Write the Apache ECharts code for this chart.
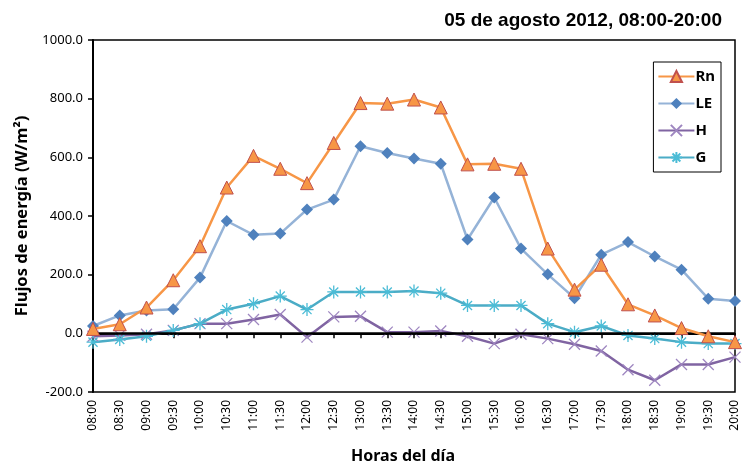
<!DOCTYPE html>
<html><head><meta charset="utf-8">
<script src="https://cdn.jsdelivr.net/npm/echarts@6/dist/echarts.min.js"></script>
<style>html,body{margin:0;padding:0;background:#fff}#c{width:748px;height:469px}</style>
</head><body><div id="c"></div>
<script>
var categories = ["08:00","08:30","09:00","09:30","10:00","10:30","11:00","11:30","12:00","12:30","13:00","13:30","14:00","14:30","15:00","15:30","16:00","16:30","17:00","17:30","18:00","18:30","19:00","19:30","20:00"];
var Rn = [15,31,88,181,297,497,605,561,512,649,785,783,797,770,576,578,561,289,149,234,99,61,18,-10,-30];
var LE = [25,61,78,82,190,383,336,340,422,456,638,615,596,578,320,463,289,201,120,268,311,262,217,118,110];
var H  = [-10,-7,-3,10,33,33,47,64,-13,56,58,4,4,8,-10,-35,-3,-18,-37,-60,-124,-160,-106,-106,-81];
var G  = [-30,-21,-10,10,33,81,101,127,81,141,141,141,144,137,95,95,95,33,4,25,-7,-18,-30,-35,-35];
var yTicks = {min:-200, max:1000, interval:200};

var xSym = 'path://M0,0L10,10M10,0L0,10';
var astSym = 'path://M0,5L10,5M5,0L5,10M1.5,1.5L8.5,8.5M8.5,1.5L1.5,8.5';

var chart = echarts.init(document.getElementById('c'));
chart.setOption({
  animation:false,
  backgroundColor:'#fff',
  title:{text:'05 de agosto 2012, 08:00-20:00', right:21, top:6,
    textStyle:{fontFamily:'Liberation Sans', fontWeight:'bold', fontSize:19, color:'#000'}},
  grid:{left:93, right:13, top:40, bottom:77, show:true, borderColor:'#000', borderWidth:1.5, backgroundColor:'transparent'},
  legend:{
    data:['Rn','LE','H','G'], orient:'vertical', right:27, top:62,
    borderColor:'#000', borderWidth:1, padding:[7,6,7,4], itemGap:12,
    itemWidth:36, itemHeight:14,
    textStyle:{fontFamily:'Noto Sans', fontWeight:'bold', fontSize:15, color:'#000', padding:[0,0,0,-4]}
  },
  xAxis:{type:'category', data:categories, boundaryGap:false,
    axisLine:{lineStyle:{color:'#000', width:2}},
    axisTick:{show:true, length:5, lineStyle:{color:'#000', width:1.5}, alignWithLabel:true},
    axisLabel:{rotate:90, interval:0, fontFamily:'Noto Sans', fontSize:12, color:'#000', margin:8},
    name:'Horas del día', nameLocation:'middle', nameGap:56,
    nameTextStyle:{fontFamily:'Noto Sans', fontWeight:'bold', fontSize:16, color:'#000', padding:[0,22,0,0]}
  },
  yAxis:{type:'value', min:yTicks.min, max:yTicks.max, interval:yTicks.interval,
    axisLine:{show:true, lineStyle:{color:'#000', width:2}},
    axisTick:{show:true, length:5, lineStyle:{color:'#000', width:1.5}},
    splitLine:{show:false},
    axisLabel:{formatter:function(v){return v.toFixed(1);}, fontFamily:'Noto Sans', fontSize:13, color:'#000', margin:10},
    name:'Flujos de energía (W/m²)', nameLocation:'middle', nameGap:62,
    nameTextStyle:{fontFamily:'Noto Sans', fontWeight:'bold', fontSize:16.5, color:'#000'}
  },
  series:[
    {name:'zero', type:'line', data:[], silent:true, z:1,
      markLine:{silent:true, symbol:'none', label:{show:false},
        lineStyle:{color:'#000', width:2.5, type:'solid'}, data:[{yAxis:0}]}},
    {name:'Rn', type:'line', data:Rn, symbol:'triangle', symbolSize:13, z:5,
      lineStyle:{color:'#F79646', width:2.5},
      itemStyle:{color:'#F79646', borderColor:'#C0504D', borderWidth:1}},
    {name:'LE', type:'line', data:LE, symbol:'diamond', symbolSize:12, z:4,
      lineStyle:{color:'#95B3D7', width:2.5},
      itemStyle:{color:'#4F81BD', borderColor:'#4F81BD', borderWidth:0}},
    {name:'H', type:'line', data:H, symbol:xSym, symbolSize:11, z:3,
      lineStyle:{color:'#8064A2', width:2.5},
      itemStyle:{color:'rgba(0,0,0,0)', borderColor:'#9E86C0', borderWidth:1.3}},
    {name:'G', type:'line', data:G, symbol:astSym, symbolSize:13, z:3,
      lineStyle:{color:'#4BACC6', width:2.5},
      itemStyle:{color:'rgba(0,0,0,0)', borderColor:'#4BBCD6', borderWidth:1.3}}
  ]
});
</script></body></html>
